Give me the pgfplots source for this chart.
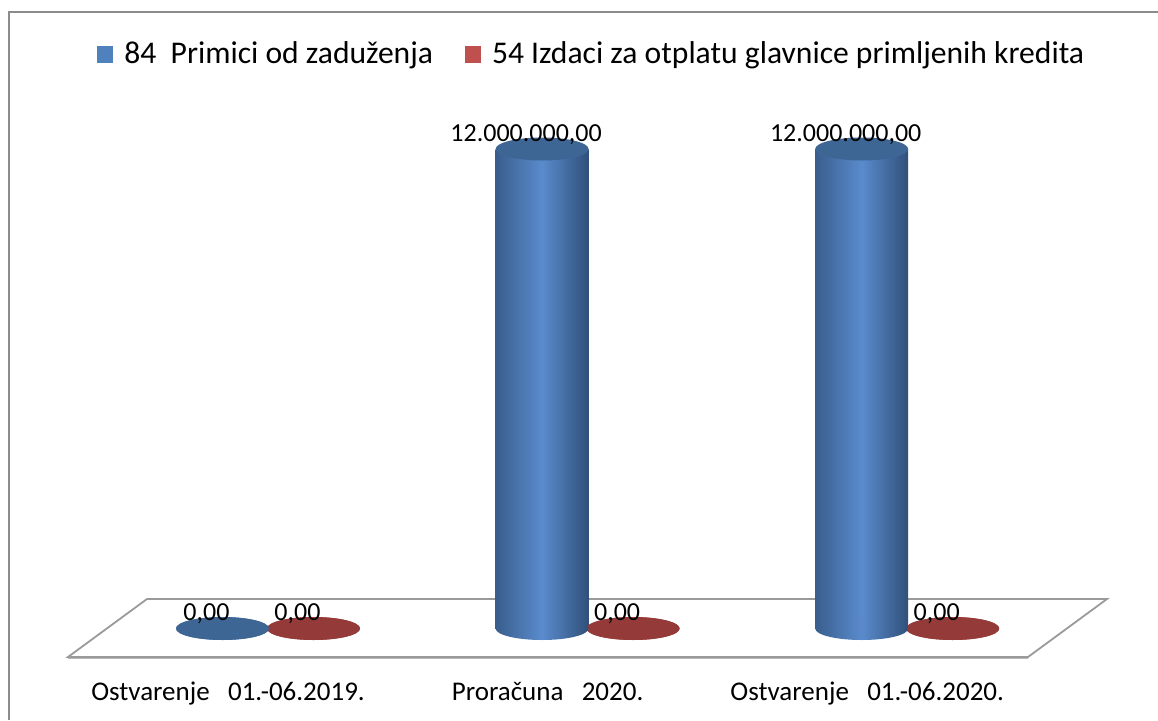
\documentclass[border=0pt]{standalone}
\usepackage{pgfplots}
\usepackage{pgfplotstable}
\pgfplotsset{compat=1.18}
\usepackage{fontspec}
\setmainfont{Carlito}
\definecolor{legblue}{HTML}{4F81BD}
\definecolor{legred}{HTML}{C0504D}
\definecolor{topblue}{HTML}{3E6695}
\definecolor{topred}{HTML}{943B39}
\definecolor{cb1}{HTML}{395E8D}
\definecolor{cb2}{HTML}{5A8BCD}
\definecolor{cb3}{HTML}{30507A}
\definecolor{cr1}{HTML}{8A2E2C}
\definecolor{cr2}{HTML}{C0504D}
\definecolor{cr3}{HTML}{7A2624}
\definecolor{framegray}{HTML}{8C8C8C}
\definecolor{floorgray}{HTML}{9A9A9A}
\pgfdeclareplotmark{ellbotb}{\path[draw=none, left color=cb1, right color=cb3, middle color=cb2] (-22.75pt,0pt) ellipse [x radius=23.25pt, y radius=5.75pt];}
\pgfdeclareplotmark{ellbotr}{\path[draw=none, left color=cr1, right color=cr3, middle color=cr2] (22.75pt,0pt) ellipse [x radius=23.25pt, y radius=5.75pt];}
\pgfdeclareplotmark{elltopb}{\path[draw=none, fill=topblue] (-22.75pt,0pt) ellipse [x radius=23.25pt, y radius=5.75pt];}
\pgfdeclareplotmark{elltopr}{\path[draw=none, fill=topred] (22.75pt,0pt) ellipse [x radius=23.25pt, y radius=5.75pt];}
\pgfplotstableread{
x y base
0 0 0
1 12000000 0
2 12000000 0
}\bluedata
\pgfplotstableread{
x y base
0 0 0
1 0 0
2 0 0
}\reddata
\pgfplotsset{
  bodyb/.style={forget plot, ybar, bar width=46.5pt, bar shift=-22.75pt, draw=none, left color=cb1, right color=cb3, middle color=cb2},
  bodyr/.style={forget plot, ybar, bar width=46.5pt, bar shift=22.75pt, draw=none, left color=cr1, right color=cr3, middle color=cr2},
  lbl/.style={nodes near coords={\pgfmathprintnumber[fixed, fixed zerofill, precision=2, use comma, 1000 sep={.}, assume math mode=true]{\pgfplotspointmeta}},
    every node near coord/.append style={font=\fontsize{13}{15}\selectfont, text=black, anchor=base, inner sep=0pt, yshift=4pt, xshift=#1}},
}
\begin{document}
\begin{tikzpicture}
\useasboundingbox (0pt,0pt) rectangle (579pt,360pt);
\draw[framegray, line width=1pt] (4.6pt,0pt) -- (4.6pt,354pt) -- (579.5pt,354pt);
\draw[floorgray!70, line width=1.6pt] (34pt,31.2pt) -- (514pt,31.2pt);
\draw[floorgray, line width=0.9pt, line join=miter] (34pt,31.5pt) -- (514pt,31.5pt) -- (553.5pt,60.5pt) -- (73.5pt,60.5pt) -- cycle;
\begin{axis}[
  at={(14.15pt,45.75pt)}, anchor=south west, scale only axis,
  width=559.3pt, height=239.75pt,
  xmin=-0.75, xmax=2.75, ymin=0, ymax=12000000,
  clip=false, axis line style={draw=none}, tick style={draw=none},
  ytick=\empty, xtick={0,1,2},
  xticklabels={Ostvarenje\ \ \ 01.-06.2019., Proračuna\ \ \ 2020., Ostvarenje\ \ \ 01.-06.2020.},
  xticklabel style={anchor=base, yshift=-35.75pt, xshift=-20pt, font=\fontsize{13.5}{16}\selectfont},
  legend style={draw=none, fill=none, at={(axis description cs:0.0614,1.198)}, anchor=west,
    legend columns=2, font=\fontsize{15.8}{19}\selectfont,
    /tikz/every even column/.append style={column sep=14pt}, inner sep=0pt},
  legend image code/.code={\fill[#1] (0pt,-4.25pt) rectangle (8pt,4.25pt); \path (11.5pt,0pt);},
]
\addlegendimage{fill=legblue, draw=none}
\addlegendentry{84\ \ Primici od zaduženja}
\addlegendimage{fill=legred, draw=none}
\addlegendentry{54 Izdaci za otplatu glavnice primljenih kredita}
% red series
\addplot[forget plot, only marks, mark=ellbotr] table[x=x,y=base] {\reddata};
\addplot[bodyr, restrict expr to domain={\coordindex}{0:0}] table[x=x,y=y] {\reddata};
\addplot[bodyr, restrict expr to domain={\coordindex}{1:1}] table[x=x,y=y] {\reddata};
\addplot[bodyr, restrict expr to domain={\coordindex}{2:2}] table[x=x,y=y] {\reddata};
\addplot[forget plot, only marks, mark=elltopr, lbl=14.75pt] table[x=x,y=y] {\reddata};
% blue series
\addplot[forget plot, only marks, mark=ellbotb] table[x=x,y=base] {\bluedata};
\addplot[bodyb, restrict expr to domain={\coordindex}{0:0}] table[x=x,y=y] {\bluedata};
\addplot[bodyb, restrict expr to domain={\coordindex}{1:1}] table[x=x,y=y] {\bluedata};
\addplot[bodyb, restrict expr to domain={\coordindex}{2:2}] table[x=x,y=y] {\bluedata};
\addplot[forget plot, only marks, mark=elltopb, lbl=-30.75pt] table[x=x,y=y] {\bluedata};
\end{axis}
\end{tikzpicture}
\end{document}
